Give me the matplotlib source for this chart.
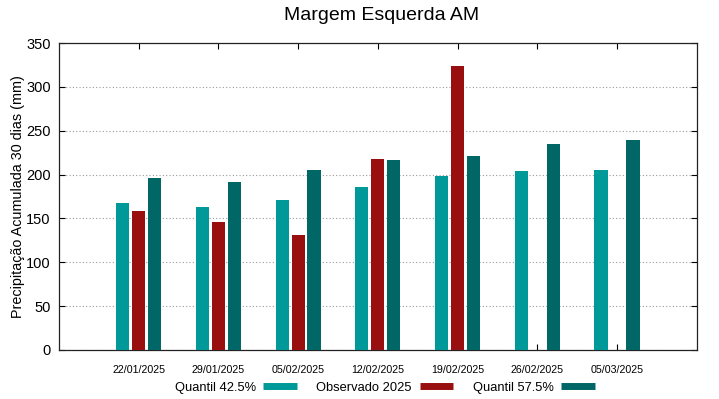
import numpy as np
import matplotlib.pyplot as plt
from matplotlib.lines import Line2D
from matplotlib.transforms import ScaledTranslation

plt.rcParams['font.family'] = ['Liberation Sans', 'DejaVu Sans']

datas = ['22/01/2025', '29/01/2025', '05/02/2025', '12/02/2025',
         '19/02/2025', '26/02/2025', '05/03/2025']
q425 = [168, 163, 171, 186, 198, 204, 205]
obs2025 = [159, 146, 131, 218, 324, np.nan, np.nan]
q575 = [196, 191, 205, 217, 221, 235, 239]

cor_q425 = '#009999'
cor_obs = '#990e0e'
cor_q575 = '#006666'

fig = plt.figure(figsize=(7.19, 3.99), dpi=100)
ax = fig.add_axes([0.082, 0.123, 0.887, 0.769])

x = np.arange(1, len(datas) + 1)
w = 0.165
passo = 0.2
ax.bar(x - passo, q425, width=w, color=cor_q425, zorder=3)
ax.bar(x, obs2025, width=w, color=cor_obs, zorder=3)
ax.bar(x + passo, q575, width=w, color=cor_q575, zorder=3)

ax.set_xlim(0, 8)
ax.set_ylim(0, 350)
ax.set_yticks(np.arange(0, 351, 50))
ax.set_xticks(x)
ax.set_xticklabels(datas, fontsize=7.7)
for lbl in ax.get_xticklabels():
    lbl.set_transform(lbl.get_transform() + ScaledTranslation(6 / 100, 0, fig.dpi_scale_trans))
ax.tick_params(axis='y', labelsize=10.5, direction='in', right=True, length=4, pad=6)
ax.tick_params(axis='x', direction='in', top=True, length=4, pad=11)
ax.grid(axis='y', linestyle=(0, (1, 2)), color='#999999', linewidth=0.8, zorder=0)
for s in ax.spines.values():
    s.set_linewidth(0.9)
    s.set_color('#222222')

ax.set_ylabel('Precipitação Acumulada 30 dias (mm)', fontsize=10.4, labelpad=1)
fig.text(0.53, 0.962, 'Margem Esquerda AM', ha='center', va='center', fontsize=14)

handles = [Line2D([], [], color=c, lw=5, solid_capstyle='butt')
           for c in (cor_q425, cor_obs, cor_q575)]
fig.legend(handles, ['Quantil 42.5%', 'Observado 2025', 'Quantil 57.5%'],
           loc='center', bbox_to_anchor=(0.535, 0.028), ncol=3, frameon=False,
           markerfirst=False, handlelength=2.6, columnspacing=1.5,
           handletextpad=0.6, fontsize=9.3)

fig.savefig('out.png', dpi=100)
